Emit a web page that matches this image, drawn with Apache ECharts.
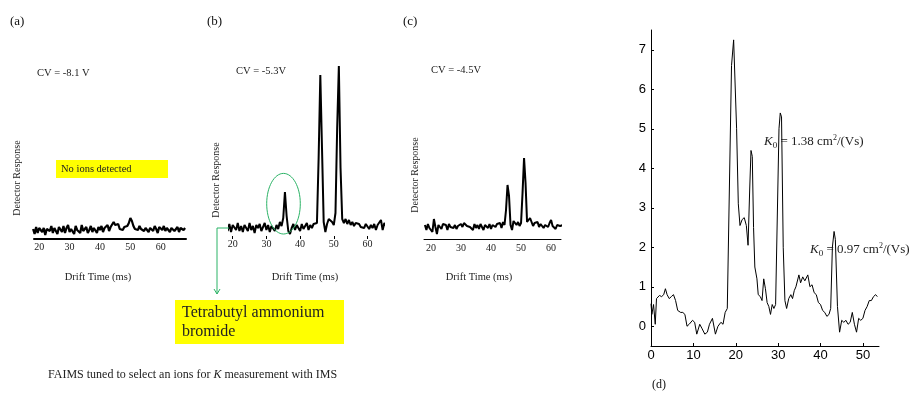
<!DOCTYPE html>
<html><head><meta charset="utf-8">
<script src="https://cdn.jsdelivr.net/npm/echarts@6/dist/echarts.min.js"></script>
<style>html,body{margin:0;padding:0;background:#fff}#c{width:912px;height:396px}</style>
</head><body><div id="c"></div>
<script>
// Drift time sampling grid (ms) shared by panels (a)-(c)
var driftTime = [18,18.5,19,19.5,20,20.5,21,21.5,22,22.5,23,23.5,24,24.5,25,25.5,26,26.5,27,27.5,28,28.5,29,29.5,30,30.5,31,31.5,32,32.5,33,33.5,34,34.5,35,35.5,36,36.5,37,37.5,38,38.5,39,39.5,40,40.5,41,41.5,42,42.5,43,43.5,44,44.5,45,45.5,46,46.5,47,47.5,48,48.5,49,49.5,50,50.5,51,51.5,52,52.5,53,53.5,54,54.5,55,55.5,56,56.5,57,57.5,58,58.5,59,59.5,60,60.5,61,61.5,62,62.5,63,63.5,64,64.5,65,65.5,66,66.5,67,67.5,68];
// (a) CV = -8.1 V
var responseA = [0.2,-0.3,0.4,-0.2,0.3,0.5,-0.1,0.3,-0.4,0.2,
  0.4,0.0,0.5,-0.2,0.3,0.1,-0.3,0.4,0.2,-0.1,
  0.5,-0.2,0.3,0.6,-0.1,0.2,0.4,-0.3,0.5,0.1,
  0.3,-0.2,0.6,0.0,0.2,0.4,-0.2,0.1,0.5,-0.1,
  0.3,0.2,-0.2,0.4,0.1,0.5,-0.1,0.3,0.2,0.6,
  0.0,0.4,0.3,0.9,0.6,0.4,0.7,0.2,0.3,0.1,
  0.4,0.2,0.5,0.8,1.3,1.0,0.5,0.2,0.4,0.1,
  0.5,0.2,0.4,0.0,0.3,0.5,-0.1,0.3,0.4,0.0,
  0.5,0.2,-0.2,0.4,0.3,0.1,0.5,0.0,0.3,0.4,
  -0.1,0.3,0.5,0.0,0.2,0.4,-0.1,0.3,0.2,0.1,
  0.3];
// (b) CV = -5.3 V
var responseB = [0.2,-0.3,0.4,-0.4,0.3,0.1,-0.2,0.5,-0.3,0.2,
  -0.4,0.3,0.0,-0.3,0.5,-0.2,0.2,-0.5,0.3,0.0,
  0.4,-0.3,0.1,0.5,-0.2,0.3,-0.4,0.2,0.0,-0.3,
  0.3,-0.1,0.6,0.2,1.0,3.6,1.2,-0.3,-0.6,0.0,
  0.4,-0.2,0.3,0.0,-0.3,0.4,-0.1,0.2,0.5,-0.2,
  0.3,0.0,0.4,0.2,0.5,7.0,15.3,8.0,0.6,-0.4,
  0.4,0.9,1.0,0.6,0.3,1.5,10.0,16.2,6.0,0.9,
  0.5,0.9,0.4,0.8,0.3,0.6,0.2,0.5,0.3,0.4,
  0.1,0.3,0.0,0.4,0.2,-0.1,0.3,0.0,0.4,-0.2,
  0.3,0.1,0.8,-0.2,0.5,0.2,0.3,0.1,0.2,0.0,
  0.2];
// (c) CV = -4.5 V
var responseC = [0.3,-0.2,0.4,0.0,0.2,-0.4,0.9,0.1,-0.6,0.3,
  0.5,-0.1,0.4,0.2,0.3,-0.2,0.4,0.1,0.2,0.0,
  0.3,-0.1,0.2,0.0,0.4,0.1,0.5,0.3,0.2,0.4,
  0.1,0.3,-0.2,0.4,0.0,0.3,-0.1,0.4,0.2,-0.2,
  0.3,0.5,0.0,0.4,-0.1,0.3,0.5,0.1,0.4,0.2,
  0.5,0.0,0.6,0.3,1.8,4.3,3.2,0.3,-0.2,0.7,
  0.9,0.3,0.6,0.2,0.5,3.5,7.0,4.5,0.6,0.4,
  1.0,0.6,0.2,0.5,0.3,0.6,0.1,0.4,0.5,0.0,
  0.3,0.4,0.1,0.5,0.8,0.2,0.4,-0.1,0.3,0.5,
  0.2,0.0,0.3,0.1,0.2,0.3,0.1,0.2,0.0,0.1,
  0.2];
var driftTicks = [20,30,40,50,60];
// (d) IMS spectrum
var dTime = [0,0.2,0.6,1.0,1.3,1.7,2.0,2.5,3.0,3.4,3.8,4.3,4.8,5.3,5.8,6.3,7.0,7.5,8.0,8.5,9.0,9.3,9.8,10.3,10.8,11.5,12.0,12.7,13.3,13.8,14.5,15.2,15.8,16.5,17.0,17.5,18.0,18.3,19.0,19.5,19.7,20.2,20.6,21.0,21.5,22.0,22.5,22.9,23.3,23.6,23.9,24.2,24.5,25.0,25.3,25.8,26.2,26.6,27.0,27.4,27.8,28.2,28.6,29.0,29.4,29.8,30.2,30.5,30.8,31.2,31.6,32.0,32.5,33.0,33.4,33.8,34.2,34.9,35.3,35.8,36.3,37.0,37.5,38.0,38.5,39.0,39.5,40.0,40.5,41.0,41.5,42.0,42.4,42.8,43.2,43.5,44.0,44.5,45.0,45.5,46.0,46.5,47.0,47.5,48.0,48.5,49.0,49.5,50.0,50.5,51.0,51.5,52.0,52.5,53.0,53.4];
var dSignal = [0.57,0.3,0.55,0.05,0.7,0.72,0.78,0.75,0.8,0.95,0.8,0.7,0.75,0.8,0.65,0.4,0.35,0.35,0.3,0.0,0.05,0.0,0.15,0.1,-0.2,0.05,-0.05,-0.2,-0.15,0.05,0.2,-0.2,0.0,0.1,0.05,0.35,0.45,0.5,6.6,7.25,7.2,5.0,3.1,2.55,2.7,2.75,2.55,2.05,3.5,4.45,4.3,2.5,1.5,1.2,0.8,0.75,0.65,1.2,0.95,0.6,0.5,0.3,0.55,0.45,0.55,0.5,5.0,5.4,5.3,2.0,0.65,0.45,0.7,0.8,0.7,0.9,1.0,1.3,1.1,1.25,1.15,1.3,1.0,1.05,0.85,0.8,0.6,0.55,0.4,0.35,0.25,0.3,0.45,2.0,2.4,2.2,0.5,-0.15,0.15,0.1,0.15,0.05,0.1,0.35,0.05,-0.15,0.2,0.15,0.2,0.4,0.5,0.65,0.65,0.75,0.8,0.75];
var dXTicks = [0,10,20,30,40,50];
var dYTicks = [0,1,2,3,4,5,6,7];

function pairs(xs, ys){ var out=[]; for(var i=0;i<xs.length;i++) out.push([xs[i], ys[i]]); return out; }

var SERIF = '"Liberation Serif","Times New Roman",serif';
var SANS = '"Liberation Sans",Arial,sans-serif';
var GREEN = '#2bb366';

var chart = echarts.init(document.getElementById('c'), null, {renderer:'canvas'});

function driftX(gi, min, max, opts){
  return {
    gridIndex: gi, type:'value', min:min, max:max,
    axisLine: {show: opts.line, onZero:false, lineStyle:{color:'#000', width: opts.lineWidth||1}},
    axisTick: {show: opts.tick, customValues: driftTicks, inside:false, length:3, lineStyle:{color:'#000'}},
    axisLabel: {customValues: driftTicks, color:'#222', fontFamily: SERIF, fontSize: 10, margin: opts.margin},
    splitLine: {show:false}
  };
}
function hiddenY(gi, min, max){
  return {gridIndex: gi, type:'value', min:min, max:max, show:false, splitLine:{show:false}};
}

var option = {
  animation: false,
  backgroundColor: '#fff',
  grid: [
    {left:34, top:61, width:152, height:178, outerBoundsMode:'none'},
    {left:229, top:58, width:155, height:178, outerBoundsMode:'none'},
    {left:424, top:58, width:137, height:181, outerBoundsMode:'none'},
    {left:651, top:30, width:228, height:316, outerBoundsMode:'none'}
  ],
  xAxis: [
    driftX(0, 18.3, 68.3, {line:true, lineWidth:2, tick:false, margin:3}),
    driftX(1, 18.9, 64.9, {line:false, tick:true, margin:3}),
    driftX(2, 17.7, 63.3, {line:true, lineWidth:1, tick:false, margin:4}),
    {gridIndex:3, type:'value', min:0, max:53.8,
     axisLine:{show:true, onZero:false, lineStyle:{color:'#000', width:1}},
     axisTick:{show:true, inside:true, length:3, customValues:dXTicks, lineStyle:{color:'#000'}},
     axisLabel:{customValues:dXTicks, color:'#000', fontFamily:SANS, fontSize:13, margin:3},
     splitLine:{show:false}}
  ],
  yAxis: [
    hiddenY(0, -0.8, 17),
    hiddenY(1, -0.8, 17),
    hiddenY(2, -1.1, 17),
    {gridIndex:3, type:'value', min:-0.5, max:7.5,
     axisLine:{show:true, onZero:false, lineStyle:{color:'#000', width:1}},
     axisTick:{show:true, inside:true, length:3, customValues:dYTicks, lineStyle:{color:'#000'}},
     axisLabel:{customValues:dYTicks, color:'#000', fontFamily:SANS, fontSize:13, margin:5},
     splitLine:{show:false}}
  ],
  series: [
    {type:'line', xAxisIndex:0, yAxisIndex:0, data:pairs(driftTime, responseA), showSymbol:false, clip:true,
     lineStyle:{color:'#000', width:2.2}},
    {type:'line', xAxisIndex:1, yAxisIndex:1, data:pairs(driftTime, responseB), showSymbol:false, clip:true,
     lineStyle:{color:'#000', width:2}},
    {type:'line', xAxisIndex:2, yAxisIndex:2, data:pairs(driftTime, responseC), showSymbol:false, clip:true,
     lineStyle:{color:'#000', width:2}},
    {type:'line', xAxisIndex:3, yAxisIndex:3, data:pairs(dTime, dSignal), showSymbol:false, clip:true,
     lineStyle:{color:'#000', width:1}}
  ],
  graphic: [
    // panel tags
    {type:'text', x:10, y:22, style:{text:'(a)', font:'13px '+SERIF, fill:'#111', verticalAlign:'middle'}},
    {type:'text', x:207, y:22, style:{text:'(b)', font:'13px '+SERIF, fill:'#111', verticalAlign:'middle'}},
    {type:'text', x:403, y:22, style:{text:'(c)', font:'13px '+SERIF, fill:'#111', verticalAlign:'middle'}},
    {type:'text', x:652, y:385, style:{text:'(d)', font:'12px '+SERIF, fill:'#111', verticalAlign:'middle'}},
    // CV labels
    {type:'text', x:37, y:73, style:{text:'CV = -8.1 V', font:'10.5px '+SERIF, fill:'#222', verticalAlign:'middle'}},
    {type:'text', x:236, y:71, style:{text:'CV = -5.3V', font:'10.5px '+SERIF, fill:'#222', verticalAlign:'middle'}},
    {type:'text', x:431, y:70, style:{text:'CV = -4.5V', font:'10.5px '+SERIF, fill:'#222', verticalAlign:'middle'}},
    // Detector Response
    {type:'text', x:17, y:178, rotation:Math.PI/2, style:{text:'Detector Response', font:'10px '+SERIF, fill:'#222', align:'center', verticalAlign:'middle'}},
    {type:'text', x:216, y:180, rotation:Math.PI/2, style:{text:'Detector Response', font:'10px '+SERIF, fill:'#222', align:'center', verticalAlign:'middle'}},
    {type:'text', x:415, y:175, rotation:Math.PI/2, style:{text:'Detector Response', font:'10px '+SERIF, fill:'#222', align:'center', verticalAlign:'middle'}},
    // Drift Time
    {type:'text', x:98, y:277, style:{text:'Drift Time (ms)', font:'10.5px '+SERIF, fill:'#222', align:'center', verticalAlign:'middle'}},
    {type:'text', x:305, y:277, style:{text:'Drift Time (ms)', font:'10.5px '+SERIF, fill:'#222', align:'center', verticalAlign:'middle'}},
    {type:'text', x:479, y:277, style:{text:'Drift Time (ms)', font:'10.5px '+SERIF, fill:'#222', align:'center', verticalAlign:'middle'}},
    // yellow note (a)
    {type:'rect', shape:{x:56, y:160, width:112, height:18}, style:{fill:'#ffff00'}, z:1},
    {type:'text', x:61, y:169, z:2, style:{text:'No ions detected', font:'10.5px '+SERIF, fill:'#222', verticalAlign:'middle'}},
    // green ellipse + connector (b)
    {type:'ellipse', shape:{cx:283.5, cy:203.7, rx:16.8, ry:30.3}, style:{fill:null, stroke:GREEN, lineWidth:1}, z:5},
    {type:'polyline', shape:{points:[[229,228],[217,228],[217,294]]}, style:{stroke:GREEN, lineWidth:1, fill:null}, z:5},
    {type:'polyline', shape:{points:[[214,289],[217,294],[220,289]]}, style:{stroke:GREEN, lineWidth:1, fill:null}, z:5},
    {type:'rect', shape:{x:175, y:300, width:169, height:44}, style:{fill:'#ffff00'}, z:1},
    {type:'text', x:182, y:313, z:2, style:{text:'Tetrabutyl ammonium', font:'16px '+SERIF, fill:'#222', verticalAlign:'middle'}},
    {type:'text', x:182, y:332, z:2, style:{text:'bromide', font:'16px '+SERIF, fill:'#222', verticalAlign:'middle'}},
    // caption
    {type:'text', x:48, y:375, style:{
      text:'{n|FAIMS tuned to select an ions for }{i|K}{n| measurement with IMS}',
      rich:{n:{font:'12px '+SERIF, fill:'#222'}, i:{font:'italic 12px '+SERIF, fill:'#222'}},
      verticalAlign:'middle'}},
    // K0 annotations (d)
    {type:'text', x:764, y:142, z:1, style:{
      text:'{k|K}{s|0}{n| = 1.38 cm}{p|2}{n|/(Vs)}',
      rich:{k:{font:'italic 13px '+SERIF, fill:'#222', lineHeight:16},
            s:{font:'9px '+SERIF, fill:'#222', verticalAlign:'bottom', lineHeight:16},
            n:{font:'13px '+SERIF, fill:'#222', lineHeight:16},
            p:{font:'8px '+SERIF, fill:'#222', verticalAlign:'top', lineHeight:16}},
      verticalAlign:'middle'}},
    {type:'text', x:810, y:250, z:1, style:{
      text:'{k|K}{s|0}{n| = 0.97 cm}{p|2}{n|/(Vs)}',
      rich:{k:{font:'italic 13px '+SERIF, fill:'#222', lineHeight:16},
            s:{font:'9px '+SERIF, fill:'#222', verticalAlign:'bottom', lineHeight:16},
            n:{font:'13px '+SERIF, fill:'#222', lineHeight:16},
            p:{font:'8px '+SERIF, fill:'#222', verticalAlign:'top', lineHeight:16}},
      verticalAlign:'middle'}}
  ]
};
chart.setOption(option);
</script>
</body></html>
